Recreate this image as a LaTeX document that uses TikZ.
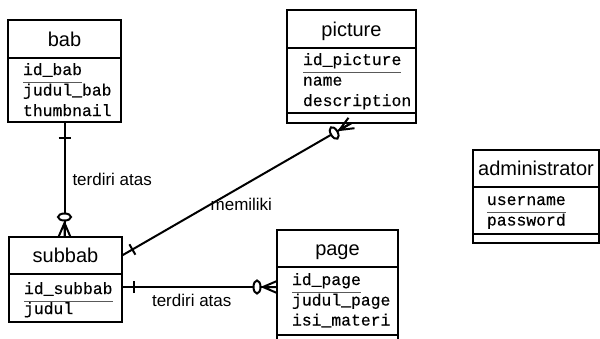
\documentclass[tikz,border=0pt]{standalone}
\usepackage{fontspec}
\setmainfont{Liberation Sans}
\setmonofont[FakeBold=0.4]{Liberation Mono}
\usetikzlibrary{positioning, calc, decorations.markings}

\newcommand{\headsize}{\fontsize{20}{23}\selectfont}
\newcommand{\attrsize}{\ttfamily\fontsize{16.4}{20}\selectfont}
\newcommand{\relsize}{\fontsize{17}{20}\selectfont}

\tikzset{
  erd/.style={
	x=1pt, y=-1pt, % one unit is one pixel, y runs down
	line width=2pt, % thick lines for boxes and relations
	every node/.style={inner sep=0pt, outer sep=0pt},
  },
  entityhead/.style={draw, anchor=north west, font=\headsize, minimum height=37pt, text height=14pt, text depth=0pt}, % title part of a table
  entitybody/.style={draw, minimum height=#1}, % attribute part of a table
  attr/.style={font=\attrsize, anchor=base west},
  keyline/.style={line width=1pt, black!65}, % line under the key
  relation/.style={draw, line width=2pt},
  reltext/.style={font=\relsize},
  onestart/.style={postaction={decorate, decoration={markings,
	  mark=at position #1 with {\draw[line width=2pt] (0pt,-6pt) -- (0pt,6pt);}}}}, % the "one" bar
  zeromanyend/.style={postaction={decorate, decoration={markings,
	  mark=at position -20pt with {\draw[line width=2pt, fill=white] (0pt,0pt) ellipse [x radius=3.5pt, y radius=6.5pt];},
	  mark=at position -14pt with {\draw[line width=2pt] (14pt,6pt) -- (0pt,0pt) -- (14pt,-6pt) (0pt,0pt) -- (14pt,0pt);}}}}, % circle and crow's foot
}

\begin{document}
\begin{tikzpicture}[erd]
	  \useasboundingbox (0,0) rectangle (600,338);

	  % bab
	  \node[entityhead, minimum width=113pt, minimum height=38pt] (babhead) at (8,20) {bab};
	  \node[entitybody=64pt, minimum width=113pt, below right=0pt of babhead.south west] (babattr) {};
	  \node[attr] (babid) at ([xshift=15pt, yshift=-17pt]babattr.north west) {id\_bab};
	  \node[attr] (babjudul) at ([yshift=-20.5pt]babid.base west) {judul\_bab};
	  \node[attr] (babthumb) at ([yshift=-20.5pt]babjudul.base west) {thumbnail};
	  \draw[keyline] ([yshift=-7pt]babid.base west) -- ([yshift=-7pt]babid.base east);

	  % picture
	  \node[entityhead, minimum width=129pt, minimum height=38pt] (picturehead) at (287,10) {picture};
	  \node[entitybody=65pt, minimum width=129pt, below right=0pt of picturehead.south west] (pictureattr) {};
	  \node[entitybody=10pt, minimum width=129pt, below right=0pt of pictureattr.south west] (picturefoot) {};
	  \node[attr] (pictureid) at ([xshift=16pt, yshift=-17pt]pictureattr.north west) {id\_picture};
	  \node[attr] (picturename) at ([yshift=-20.5pt]pictureid.base west) {name};
	  \node[attr] (picturedesc) at ([yshift=-20.5pt]picturename.base west) {description};
	  \draw[keyline] ([yshift=-7pt]pictureid.base west) -- ([yshift=-7pt]pictureid.base east);

	  % administrator
	  \node[entityhead, minimum width=126pt] (adminhead) at (473,150) {administrator};
	  \node[entitybody=47pt, minimum width=126pt, below right=0pt of adminhead.south west] (adminattr) {};
	  \node[entitybody=9pt, minimum width=126pt, below right=0pt of adminattr.south west] (adminfoot) {};
	  \node[attr] (adminuser) at ([xshift=14pt, yshift=-18pt]adminattr.north west) {username};
	  \node[attr] (adminpass) at ([yshift=-20.5pt]adminuser.base west) {password};
	  \draw[keyline] ([yshift=-7pt]adminuser.base west) -- ([yshift=-7pt]adminuser.base east);

	  % subbab
	  \node[entityhead, minimum width=113pt] (subbabhead) at (9,237) {subbab};
	  \node[entitybody=48pt, minimum width=113pt, below right=0pt of subbabhead.south west] (subbabattr) {};
	  \node[attr] (subbabid) at ([xshift=15pt, yshift=-20pt]subbabattr.north west) {id\_subbab};
	  \node[attr] (subbabjudul) at ([yshift=-20pt]subbabid.base west) {judul};
	  \draw[keyline] ([yshift=-7pt]subbabid.base west) -- ([yshift=-7pt]subbabid.base east);

	  % page
	  \node[entityhead, minimum width=121pt] (pagehead) at (277,230) {page};
	  \node[entitybody=68pt, minimum width=121pt, below right=0pt of pagehead.south west] (pageattr) {};
	  \node[entitybody=15pt, minimum width=121pt, below right=0pt of pageattr.south west] (pagefoot) {};
	  \node[attr] (pageid) at ([xshift=15pt, yshift=-18pt]pageattr.north west) {id\_page};
	  \node[attr] (pagejudul) at ([yshift=-20.5pt]pageid.base west) {judul\_page};
	  \node[attr] (pageisi) at ([yshift=-20pt]pagejudul.base west) {isi\_materi};
	  \draw[keyline] ([yshift=-7pt]pageid.base west) -- ([yshift=-7pt]pageid.base east);

	  % relations
	  \coordinate (subbabpage) at ([yshift=-13pt]subbabattr.north east);
	  \draw[relation, onestart=16pt, zeromanyend] (babattr.south) -- (babattr.south |- subbabhead.north)
		  node[reltext, midway, right=8pt] (relbab) {terdiri atas};
	  \draw[relation, onestart=12pt, zeromanyend] (subbabhead.east) -- (picturefoot.south)
		  node[reltext, pos=0.52, yshift=-18pt] (relpicture) {memiliki};
	  \draw[relation, onestart=12pt, zeromanyend] (subbabpage) -- (subbabpage -| pageattr.west)
		  node[reltext, pos=0.45, below=7pt] (relpage) {terdiri atas};
\end{tikzpicture}
\end{document}
